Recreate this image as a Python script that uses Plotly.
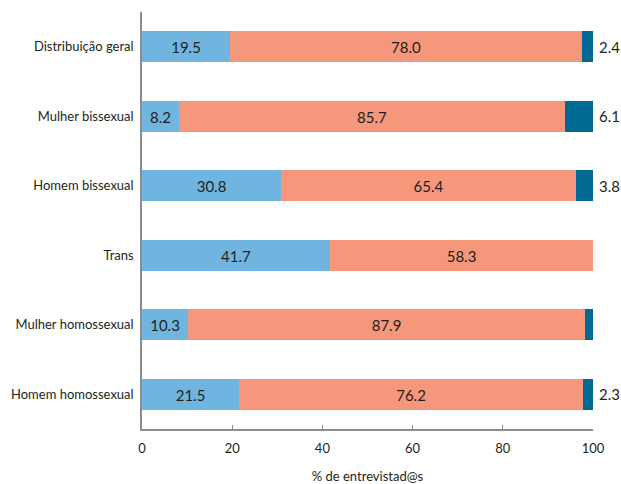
import plotly.graph_objects as go

categories = ["Distribuição geral", "Mulher bissexual", "Homem bissexual",
              "Trans", "Mulher homossexual", "Homem homossexual"]
serie_a = [19.5, 8.2, 30.8, 41.7, 10.3, 21.5]
serie_b = [78.0, 85.7, 65.4, 58.3, 87.9, 76.2]
serie_c = [2.4, 6.1, 3.8, 0.0, 1.9, 2.3]
x_ticks = [0, 20, 40, 60, 80, 100]

FONT = "Lato"
TXT = "#231f20"
fig = go.Figure()
for vals, col, show in [(serie_a, "#6fb5df", True), (serie_b, "#f5977a", True), (serie_c, "#006a92", False)]:
    fig.add_trace(go.Bar(
        y=categories, x=vals, orientation="h", marker=dict(color=col, line=dict(width=0)),
        text=[f"{v:.1f}" for v in vals] if show else None,
        textposition="inside" if show else "none", insidetextanchor="middle",
        constraintext="none",
        textfont=dict(family=FONT, size=15, color=TXT),
        width=0.44, showlegend=False, hoverinfo="skip"))

for cat, a, b, c in zip(categories, serie_a, serie_b, serie_c):
    if c > 0:
        fig.add_annotation(x=a + b + c, y=cat, text=f"{c:.1f}", showarrow=False,
                           xanchor="left", xshift=4, font=dict(family=FONT, size=15, color=TXT))

fig.update_layout(
    width=621, height=484, barmode="stack", bargap=0,
    margin=dict(l=142, r=28, t=12, b=55, autoexpand=False),
    plot_bgcolor="white", paper_bgcolor="white",
    font=dict(family=FONT, size=13, color=TXT),
    xaxis=dict(range=[0, 100], tickvals=x_ticks, ticks="inside", ticklen=4, tickcolor="#8c8c8c",
               showline=True, linecolor="#8c8c8c", linewidth=1.5, showgrid=False, zeroline=False,
               automargin=False, ticklabelstandoff=7,
               tickfont=dict(size=13), title=dict(text="% de entrevistad@s", font=dict(size=13), standoff=25)),
    yaxis=dict(categoryorder="array", categoryarray=categories, autorange="reversed",
               showline=True, linecolor="#8c8c8c", linewidth=1.5, showgrid=False, ticks="",
               automargin=False, tickfont=dict(size=13), ticklabelstandoff=4),
)
fig.write_html("out.html", config={"displayModeBar": False},
               post_script="document.body.style.margin='0px';document.body.style.overflow='hidden';")
